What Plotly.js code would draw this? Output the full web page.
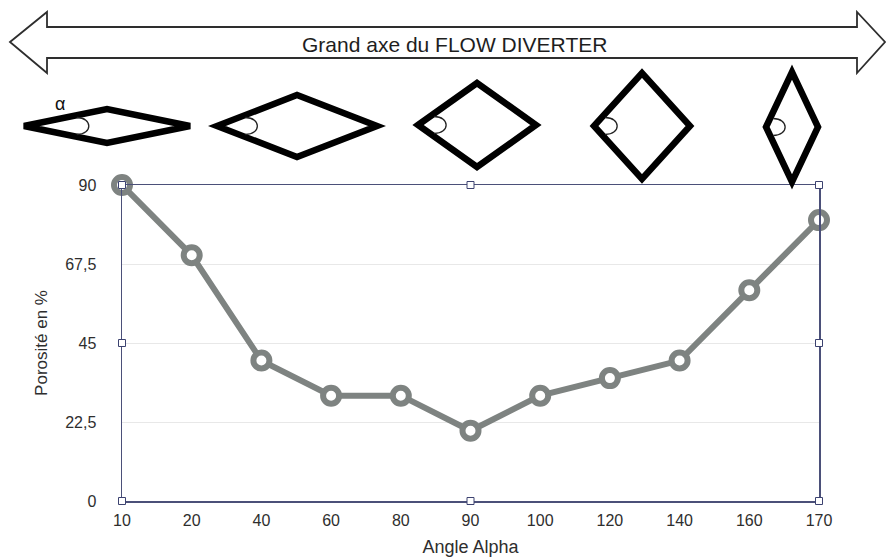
<!DOCTYPE html>
<html>
<head>
<meta charset="utf-8">
<script src="https://cdn.plot.ly/plotly-3.0.1.min.js"></script>
<style>html,body{margin:0;padding:0;background:#fff;}#chart{width:886px;height:560px;}</style>
</head>
<body>
<div id="chart"></div>
<script>
// ---- data ----
var angles = ['10','20','40','60','80','90','100','120','140','160','170'];
var porosity = [90, 70, 40, 30, 30, 20, 30, 35, 40, 60, 80];
var yTickVals = [0, 22.5, 45, 67.5, 90];
var yTickText = ['0', '22,5', '45', '67,5', '90'];
var headerText = 'Grand axe du FLOW DIVERTER';
var alphaLabel = 'α';
var xTitle = 'Angle Alpha';
var yTitle = 'Porosité en %';

// ---- layout geometry (pixels) ----
var W = 886, H = 560;
var L = 122, R = 819, T = 185, B = 501;
function px(x){ return (x - L) / (R - L); }
function py(y){ return (B - y) / (B - T); }
function pt(p){ return px(p[0]).toFixed(5) + ',' + py(p[1]).toFixed(5); }
function path(pts, close){
  var s = pts.map(function(p, i){ return (i ? 'L' : 'M') + pt(p); }).join(' ');
  return s + (close ? ' Z' : '');
}

var shapes = [];
// double-headed arrow
shapes.push({type:'path', xref:'paper', yref:'paper', layer:'above',
  path: path([[10,42],[47,12],[47,27],[857,27],[857,12],[885,42],[857,73],[857,58],[47,58],[47,73]], true),
  line:{color:'#2e2e2e', width:1.8}, fillcolor:'#ffffff'});

// rhombi: [cx, cy, half-width, half-height]
var rhombi = [[107,126,83,17],[297,126,80,31],[477,125,59,42],[642,126,48,53],[792,127,26,55]];
var strokeW = 6.5;
rhombi.forEach(function(r){
  var cx=r[0], cy=r[1], hw=r[2], hh=r[3];
  shapes.push({type:'path', xref:'paper', yref:'paper', layer:'above',
    path: path([[cx-hw,cy],[cx,cy-hh],[cx+hw,cy],[cx,cy+hh]], true),
    line:{color:'#000000', width:strokeW}, fillcolor:'rgba(0,0,0,0)'});
  // angle arc at left vertex, ends on the inner side of the two edges
  var vx = cx-hw, vy = cy;
  var slope = hh/hw;
  var inner = (strokeW/2) * Math.sqrt(1 + slope*slope);
  var yOff = 8.5;
  var t = (yOff + inner - 1) / slope;
  var p1 = [vx+t, vy-yOff], p2 = [vx+t, vy+yOff];
  var c1 = [p1[0]+16, p1[1]], c2 = [p2[0]+16, p2[1]];
  var d = 'M' + pt(p1) + ' C' + pt(c1) + ' ' + pt(c2) + ' ' + pt(p2);
  shapes.push({type:'path', xref:'paper', yref:'paper', layer:'above', path:d,
    line:{color:'#222222', width:1.3}});
});

// selection handles
var handles = [[0,0],[0.5,0],[1,0],[0,0.5],[1,0.5],[0,1],[0.5,1],[1,1]];
handles.forEach(function(h){
  shapes.push({type:'rect', xref:'paper', yref:'paper', layer:'above',
    xsizemode:'pixel', ysizemode:'pixel', xanchor:h[0], yanchor:h[1],
    x0:-3.5, x1:3.5, y0:-3.5, y1:3.5,
    line:{color:'#3c4270', width:1}, fillcolor:'#ffffff'});
});

var annotations = [
  {xref:'paper', yref:'paper', x:px(454), y:py(44), text:headerText, showarrow:false,
   font:{family:'Liberation Sans, Arial, sans-serif', size:21, color:'#1e1e1e'}, xanchor:'center', yanchor:'middle'},
  {xref:'paper', yref:'paper', x:px(60), y:py(104), text:alphaLabel, showarrow:false,
   font:{family:'Liberation Sans, Arial, sans-serif', size:18, color:'#111'}, xanchor:'center', yanchor:'middle'}
];

var trace = {
  x: angles, y: porosity, type:'scatter', mode:'lines+markers',
  line:{color:'#7e8381', width:6},
  marker:{symbol:'circle', size:16, color:'#ffffff', line:{color:'#7e8381', width:6}},
  cliponaxis:false, hoverinfo:'none'
};

var layout = {
  width:W, height:H,
  margin:{l:L, r:W-R, t:T, b:H-B, pad:0},
  paper_bgcolor:'#ffffff', plot_bgcolor:'#ffffff',
  showlegend:false,
  font:{family:'Liberation Sans, Arial, sans-serif', size:16, color:'#333'},
  xaxis:{type:'category', range:[0, angles.length-1], showgrid:false, zeroline:false,
    showline:true, mirror:true, linecolor:'#4b5079', linewidth:1.5, ticks:'',
    ticklabelstandoff:4, tickfont:{size:16, color:'#2e2e2e'},
    title:{text:xTitle, font:{size:18, color:'#2e2e2e'}, standoff:12}},
  yaxis:{range:[0,90], tickvals:yTickVals, ticktext:yTickText, showgrid:true, gridcolor:'#e8e8e8', gridwidth:1,
    zeroline:false, showline:true, mirror:true, linecolor:'#4b5079', linewidth:1.5, ticks:'',
    ticklabelstandoff:21, tickfont:{size:16, color:'#2e2e2e'},
    title:{text:yTitle, font:{size:17, color:'#2e2e2e'}, standoff:13}},
  shapes:shapes, annotations:annotations
};

Plotly.newPlot('chart', [trace], layout, {staticPlot:true, displayModeBar:false});
</script>
</body>
</html>
